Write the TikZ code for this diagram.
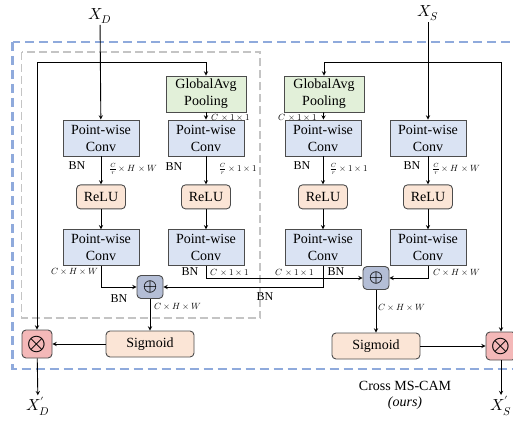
\documentclass[tikz,border=0pt]{standalone}
\usepackage{fontspec}
\usepackage{unicode-math}
\setmainfont{Liberation Serif}
\usetikzlibrary{positioning, arrows}
\definecolor{convblue}{HTML}{DAE3F3}
\definecolor{gapgreen}{HTML}{E2F0D9}
\definecolor{actpeach}{HTML}{FBE5D6}
\definecolor{addgray}{HTML}{B4BED6}
\definecolor{mulpink}{HTML}{F4B8B8}
\definecolor{outerblue}{HTML}{8FAADC}
\definecolor{innergray}{HTML}{C4C4C4}
\tikzset{
    ->, % every connector is directed
    >=stealth,
    every node/.style={font=\fontsize{14}{17}\selectfont},
    pwconv/.style={-, draw=black!70, fill=convblue, minimum width=76pt, minimum height=36pt, align=center, inner sep=1pt},
    gapbox/.style={pwconv, fill=gapgreen, minimum width=80pt},
    actbox/.style={-, draw=black!70, fill=actpeach, rounded corners=4pt, minimum width=49pt, minimum height=24pt, inner sep=1pt},
    sigbox/.style={actbox, minimum width=88pt, minimum height=26pt},
    addop/.style={-, draw=black!70, fill=addgray, rounded corners=4pt, minimum width=26pt, minimum height=23pt, inner sep=0pt, font=\fontsize{18}{18}\selectfont},
    mulop/.style={addop, fill=mulpink, minimum width=30pt, minimum height=28pt, font=\fontsize{24}{24}\selectfont},
    dimlabel/.style={inner sep=0pt, font=\fontsize{9}{10}\selectfont},
    bnlabel/.style={inner sep=0pt, font=\fontsize{12}{13}\selectfont},
    iolabel/.style={inner sep=1pt, font=\fontsize{16}{17}\selectfont},
    outerframe/.style={-, draw=outerblue, line width=2.2pt, dash pattern=on 9pt off 5pt},
    innerframe/.style={-, draw=innergray, line width=1.6pt, dash pattern=on 8pt off 4pt},
}
\begin{document}
\begin{tikzpicture}[x=1pt, y=-1pt, line width=0.9pt]
\useasboundingbox (0,0) rectangle (513,422);
\clip (0,0) rectangle (513,422);
% frames
\draw[outerframe] (12.5,42) rectangle (522,369);
\draw[innerframe] (21.5,52) rectangle (260,318);
% left half (X_D)
\node[iolabel] (XD) at (100,16) {$X_D$};
\node[pwconv] (pwDa) at (101,138) {Point-wise\\Conv};
\node[pwconv] (pwDb) at (206,138) {Point-wise\\Conv};
\node[gapbox] (gapD) at (206,94) {GlobalAvg\\Pooling};
\node[actbox, below=28pt of pwDa] (reluDa) {ReLU};
\node[actbox, below=28pt of pwDb] (reluDb) {ReLU};
\node[pwconv, below=20pt of reluDa] (pwDa2) {Point-wise\\Conv};
\node[pwconv, below=20pt of reluDb] (pwDb2) {Point-wise\\Conv};
\node[addop] (addD) at (150,287) {$\oplus$};
\node[sigbox] (sigD) at (150,344) {Sigmoid};
\node[mulop] (mulD) at (37,344) {$\otimes$};
\node[iolabel] (XDp) at (38,406) {$X^{\prime}_{D}$};
% right half (X_S)
\node[iolabel] (XS) at (428,13) {$X_S$};
\node[pwconv] (pwSa) at (323,138) {Point-wise\\Conv};
\node[pwconv] (pwSb) at (428,138) {Point-wise\\Conv};
\node[gapbox] (gapS) at (324,94) {GlobalAvg\\Pooling};
\node[actbox, below=28pt of pwSa] (reluSa) {ReLU};
\node[actbox, below=28pt of pwSb] (reluSb) {ReLU};
\node[pwconv, below=20pt of reluSa] (pwSa2) {Point-wise\\Conv};
\node[pwconv, below=20pt of reluSb] (pwSb2) {Point-wise\\Conv};
\node[addop] (addS) at (376,278) {$\oplus$};
\node[sigbox] (sigS) at (376,346) {Sigmoid};
\node[mulop] (mulS) at (501,346) {$\otimes$};
\node[iolabel] (XSp) at (501,406) {$X^{\prime}_{S}$};
% labels
\node[dimlabel] (dimgD) at (231,117) {$C\times 1\times 1$};
\node[dimlabel] (dimgS) at (298,117) {$C\times 1\times 1$};
\node[bnlabel] (bnDa) at (77,166) {BN};
\node[bnlabel] (bnDb) at (174,167) {BN};
\node[bnlabel] (bnSa) at (302,166) {BN};
\node[bnlabel] (bnSb) at (412,166) {BN};
\node[dimlabel] (dimDa) at (133,169) {$\frac{C}{r}\times H\times W$};
\node[dimlabel] (dimDb) at (238,169) {$\frac{C}{r}\times 1\times 1$};
\node[dimlabel] (dimSa) at (349,169) {$\frac{C}{r}\times 1\times 1$};
\node[dimlabel] (dimSb) at (456,169) {$\frac{C}{r}\times H\times W$};
\node[dimlabel] (dimDa2) at (75,271) {$C\times H\times W$};
\node[bnlabel] (bnDb2) at (190,272) {BN};
\node[dimlabel] (dimDb2) at (230,272) {$C\times 1\times 1$};
\node[dimlabel] (dimSa2) at (295,272) {$C\times 1\times 1$};
\node[bnlabel] (bnSa2) at (336,272) {BN};
\node[dimlabel] (dimSb2) at (457,272) {$C\times H\times W$};
\node[bnlabel] (bnX) at (265,297) {BN};
\node[bnlabel] (bnDadd) at (119,299) {BN};
\node[dimlabel] (dimDadd) at (178,306) {$C\times H\times W$};
\node[dimlabel] (dimSadd) at (402,307) {$C\times H\times W$};
\node (title) at (405,386) {Cross MS-CAM};
\node (ours) at (405,403) {\textit{(ours)}};
% connectors
\coordinate (sD) at (100,62);
\coordinate (sS) at (428,62);
\draw (XD) -- (pwDa);
\draw (sD) -| (gapD);
\draw (sD) -| (mulD);
\draw (gapD) -- (pwDb);
\draw (pwDa) -- (reluDa);
\draw (reluDa) -- (pwDa2);
\draw (pwDb) -- (reluDb);
\draw (reluDb) -- (pwDb2);
\draw (XS) -- (pwSb);
\draw (sS) -| (gapS);
\draw (sS) -| (mulS);
\draw (gapS) -- (pwSa);
\draw (pwSa) -- (reluSa);
\draw (reluSa) -- (pwSa2);
\draw (pwSb) -- (reluSb);
\draw (reluSb) -- (pwSb2);
\draw (pwDa2) |- (addD);
\draw (pwSa2) |- (addD);
\draw (pwDb2) |- (addS);
\draw (pwSb2) |- (addS);
\draw (addD) -- (sigD);
\draw (sigD) -- (mulD);
\draw (mulD) -- (XDp);
\draw (addS) -- (sigS);
\draw (sigS) -- (mulS);
\draw (mulS) -- (XSp);
\end{tikzpicture}
\end{document}
